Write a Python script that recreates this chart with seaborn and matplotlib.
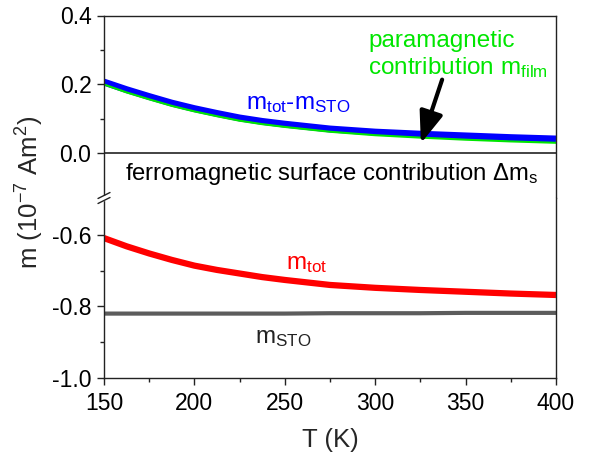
import numpy as np
import pandas as pd
import matplotlib
matplotlib.use("Agg")
import matplotlib.pyplot as plt
import seaborn as sns
from matplotlib.ticker import MultipleLocator

# ---- data ----
T = [150, 162.5, 175, 187.5, 200, 212.5, 225, 237.5, 250, 275, 300, 325, 350, 375, 400]
m_diff = [0.207, 0.185, 0.165, 0.146, 0.130, 0.116, 0.103, 0.093, 0.085, 0.071, 0.062, 0.056, 0.051, 0.046, 0.042]
m_film = [0.200, 0.177, 0.157, 0.138, 0.122, 0.108, 0.095, 0.085, 0.077, 0.063, 0.053, 0.046, 0.040, 0.035, 0.031]
m_tot = [-0.609, -0.632, -0.652, -0.670, -0.686, -0.698, -0.708, -0.718, -0.726, -0.740, -0.748, -0.754, -0.759, -0.764, -0.768]
m_sto = [-0.820, -0.820, -0.820, -0.820, -0.820, -0.820, -0.820, -0.820, -0.820, -0.819, -0.819, -0.819, -0.818, -0.818, -0.818]

x_ticks = [150, 200, 250, 300, 350, 400]
top_ticks = [0.0, 0.2, 0.4]
bot_ticks = [-1.0, -0.8, -0.6]

sns.set_style("ticks")
plt.rcParams['font.family'] = ['Liberation Sans', 'DejaVu Sans']
plt.rcParams['mathtext.fontset'] = 'custom'
plt.rcParams['mathtext.rm'] = 'Liberation Sans'
plt.rcParams['mathtext.it'] = 'Liberation Sans'
plt.rcParams['mathtext.default'] = 'regular'

df = pd.DataFrame({"T": T, "diff": m_diff, "film": m_film, "tot": m_tot, "sto": m_sto})

fig = plt.figure(figsize=(5.9, 4.58), dpi=100)
L, R = 104/590, 556/590
yt, yb, ybr = 1-15.5/458, 1-378/458, 1-198/458
ax1 = fig.add_axes([L, ybr, R-L, yt-ybr])
ax2 = fig.add_axes([L, yb, R-L, ybr-yb])

kw = dict(solid_joinstyle='round', solid_capstyle='butt')
sns.lineplot(data=df, x="T", y="diff", ax=ax1, color=(0, 0, 1), lw=5, **kw)
sns.lineplot(data=df, x="T", y="film", ax=ax1, color=(0, 0.9, 0), lw=1.5, **kw)
sns.lineplot(data=df, x="T", y="tot", ax=ax2, color=(1, 0, 0), lw=4.5, **kw)
sns.lineplot(data=df, x="T", y="sto", ax=ax2, color=(0.36, 0.36, 0.36), lw=3, **kw)

ax1.axhline(0, color='#222222', lw=1.2)

ax1.set_ylim(-0.129, 0.4)
ax2.set_ylim(-1.0, -0.497)
for ax in (ax1, ax2):
    ax.set_xlim(150, 400)
    ax.set_xlabel("")
    ax.set_ylabel("")
    for s in ax.spines.values():
        s.set_linewidth(1.0)
        s.set_color('#222222')
    ax.tick_params(which='major', direction='out', length=5, width=1, labelsize=16.5,
                   colors='#222222', labelcolor='black')
    ax.tick_params(which='minor', direction='out', length=3, width=1, colors='#222222')
ax1.spines['bottom'].set_visible(False)
ax2.spines['top'].set_visible(False)
ax1.set_xticks([])
ax1.set_yticks(top_ticks)
ax1.set_yticklabels([f"{v:.1f}" for v in top_ticks])
ax1.yaxis.set_minor_locator(plt.FixedLocator([0.1, 0.3]))
ax2.set_yticks(bot_ticks)
ax2.set_yticklabels([f"{v:.1f}" for v in bot_ticks])
ax2.yaxis.set_minor_locator(plt.FixedLocator([-0.9, -0.7]))
ax2.set_xticks(x_ticks)
ax2.set_xticklabels([str(v) for v in x_ticks])
ax2.xaxis.set_minor_locator(MultipleLocator(25))
ax2.tick_params(axis='x', pad=5)
ax1.tick_params(axis='y', pad=4)
ax2.tick_params(axis='y', pad=4)

fig.text(330/590, 1-440/458, "T (K)", fontsize=18.5, ha='center', va='center')
fig.text(30/590, 1-192/458, r"m (10$^{-7}$ Am$^{2}$)", rotation=90, fontsize=18.5,
         ha='center', va='center')

# axis break mark
bx = L * 590
by = (1 - ybr) * 458
fig.add_artist(plt.Polygon([[(bx-2)/590, 1-(by-2)/458], [(bx+2)/590, 1-(by-2)/458],
                            [(bx+2)/590, 1-(by+2)/458], [(bx-2)/590, 1-(by+2)/458]],
                           closed=True, color='white', zorder=5))
for dy in (-2.5, 2.5):
    fig.add_artist(plt.Line2D([(bx-6)/590, (bx+6)/590],
                              [1-(by+dy+3)/458, 1-(by+dy-3)/458],
                              color='#222222', lw=1.0, zorder=6))

# annotations
fig.text(368/590, 1-55/458, "paramagnetic\ncontribution m$_{film}$", color=(0, 0.9, 0),
         fontsize=17.5, ha='left', va='center', multialignment='left', linespacing=1.12)
fig.text(298/590, 1-104/458, "m$_{tot}$-m$_{STO}$", color=(0, 0, 1), fontsize=17.5,
         ha='center', va='center')
fig.text(332/590, 1-174/458, r"ferromagnetic surface contribution $\Delta$m$_{s}$",
         color='black', fontsize=17.2, ha='center', va='center')
fig.text(307/590, 1-264/458, "m$_{tot}$", color=(1, 0, 0), fontsize=17.5,
         ha='center', va='center')
fig.text(283/590, 1-338/458, "m$_{STO}$", color='#222222', fontsize=17.5,
         ha='center', va='center')

fig.add_artist(matplotlib.patches.FancyArrowPatch(
    (443/590, 1-77/458), (420/590, 1-146/458), transform=fig.transFigure,
    arrowstyle='-|>,head_length=12,head_width=4.5', mutation_scale=1.6,
    color='black', lw=3))

fig.savefig("out.png", dpi=100)
